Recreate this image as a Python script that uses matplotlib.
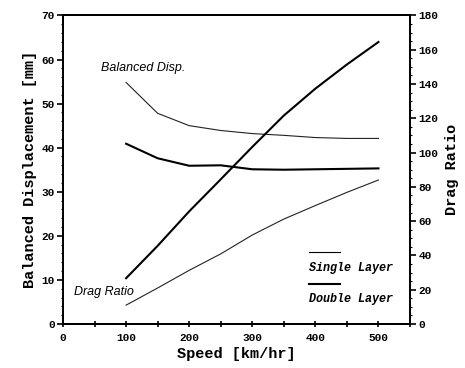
#balanced displacement and drag ratio vs speed

import matplotlib.pyplot as plt
from matplotlib.ticker import MultipleLocator
from matplotlib.offsetbox import AnchoredOffsetbox, VPacker, DrawingArea, TextArea
from matplotlib.lines import Line2D

#data
speed = [100, 150, 200, 250, 300, 350, 400, 450, 500]
disp_single = [54.8, 47.8, 45.0, 43.9, 43.2, 42.8, 42.3, 42.1, 42.1]   #mm
disp_double = [40.9, 37.6, 35.9, 36.0, 35.1, 35.0, 35.1, 35.2, 35.3]   #mm
drag_single = [11.0, 21.0, 31.3, 40.9, 51.9, 61.2, 69.1, 76.8, 84.0]
drag_double = [26.7, 45.6, 65.7, 84.4, 103.3, 121.6, 137.3, 151.4, 164.5]

mono = "Liberation Mono"

fig = plt.figure(figsize=(4.65, 3.68), dpi=100)
fig.subplots_adjust(left=0.1355, right=0.8817, bottom=0.1196, top=0.958)
ax = fig.add_subplot(111)
ax2 = ax.twinx()

#displacement on the left axis
ax.plot(speed, disp_single, color="#222222", lw=0.8)
ax.plot(speed, disp_double, color="black", lw=1.5)

#drag ratio on the right axis
ax2.plot(speed, drag_single, color="#222222", lw=0.8)
ax2.plot(speed, drag_double, color="black", lw=1.5)

ax.set_xlim(0, 550)
ax.set_ylim(0, 70)
ax2.set_ylim(0, 180)

ax.xaxis.set_major_locator(MultipleLocator(100))
ax.xaxis.set_minor_locator(MultipleLocator(50))
ax.yaxis.set_major_locator(MultipleLocator(10))
ax.yaxis.set_minor_locator(MultipleLocator(2))
ax2.yaxis.set_major_locator(MultipleLocator(20))
ax2.yaxis.set_minor_locator(MultipleLocator(5))

ax.tick_params(axis="x", which="both", direction="inout", length=5, width=1.2, pad=4)
ax.tick_params(axis="y", which="major", direction="out", length=4, width=1.2, pad=2)
ax.tick_params(axis="y", which="minor", direction="out", length=1.5, width=0.8)
ax2.tick_params(axis="y", which="major", direction="out", length=4, width=1.2, pad=2)
ax2.tick_params(axis="y", which="minor", direction="out", length=1.5, width=0.8)

for a in (ax, ax2):
    for s in a.spines.values():
        s.set_linewidth(1.4)
    for lab in a.get_xticklabels() + a.get_yticklabels():
        lab.set_fontfamily(mono)
        lab.set_fontweight("bold")
        lab.set_fontsize(8)

#axis labels
ax.set_xlabel("Speed [km/hr]", fontfamily=mono, fontweight="bold", fontsize=11, labelpad=3)
ax.set_ylabel("Balanced Displacement [mm]", fontfamily=mono, fontweight="bold", fontsize=11, labelpad=3)
ax2.set_ylabel("Drag Ratio", fontfamily=mono, fontweight="bold", fontsize=11, labelpad=5)

#curve annotations
ax.text(60, 58, "Balanced Disp.", fontfamily="Liberation Sans", fontstyle="italic",
        fontsize=9, ha="left", va="center")
ax.text(17, 7.3, "Drag Ratio", fontfamily="Liberation Sans", fontstyle="italic",
        fontsize=9, ha="left", va="center")

#legend: line sample above each label
def entry(width):
    da = DrawingArea(22, 4, 0, 0)
    da.add_artist(Line2D([0, 22], [2, 2], color="black", lw=width))
    return da

txtprops = dict(fontfamily=mono, fontweight="bold", fontstyle="italic", fontsize=8.5)
box = VPacker(children=[entry(0.8), TextArea("Single Layer", textprops=txtprops),
                        entry(1.5), TextArea("Double Layer", textprops=txtprops)],
              align="left", pad=0, sep=5)
leg = AnchoredOffsetbox(loc="lower left", child=box, pad=0, borderpad=0, frameon=False,
                        bbox_to_anchor=(0.71, 0.06), bbox_transform=ax.transAxes)
ax.add_artist(leg)

fig.savefig("out.png", dpi=100)
